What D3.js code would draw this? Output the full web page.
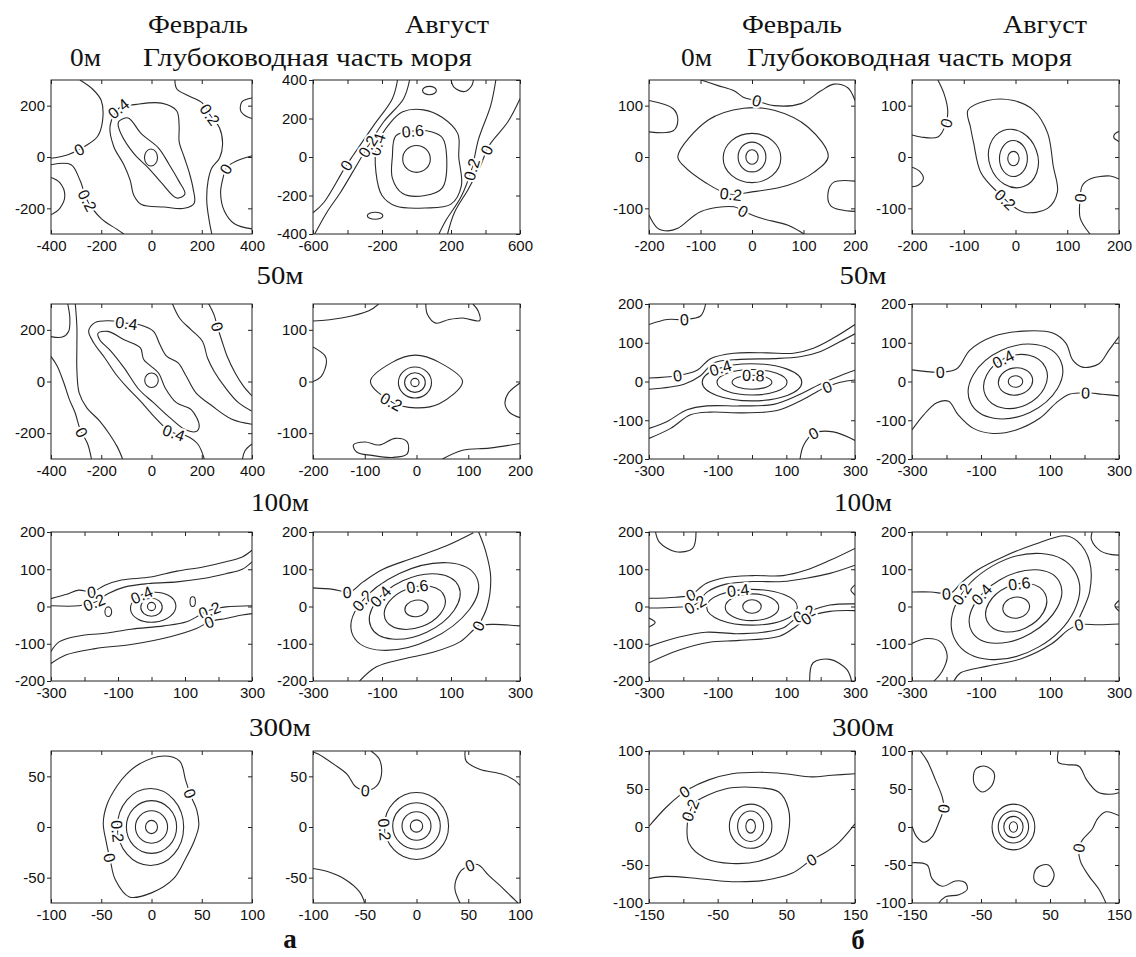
<!DOCTYPE html>
<html>
<head>
<meta charset="utf-8">
<script src="https://cdn.jsdelivr.net/npm/d3@7"></script>
<style>
  body { margin: 0; background: #fff; }
  svg { display: block; }
  .tick text { font-family: "Liberation Sans", Arial, sans-serif; font-size: 15px; fill: #111; }
  .tick line { stroke: #222; }
  .ttl { font-family: "Liberation Serif", "Times New Roman", serif; fill: #111; }
  .cl { fill: none; stroke: #2a2a2a; stroke-width: 1.1; }
  .lab { font-family: "Liberation Sans", Arial, sans-serif; font-size: 16px; fill: #111; }
</style>
</head>
<body>
<svg id="fig" width="1136" height="957"></svg>
<script>
// ---- text of the figure ----
const months = ["Февраль", "Август"];
const depths = ["0м", "50м", "100м", "300м"];
const groups = ["а", "б"];
const subtitle = "Глубоководная часть моря";

// ---- axes: rows = depth, columns = а-Feb, а-Aug, б-Feb, б-Aug ----
const xExtent = [[400, 600, 200, 200], [400, 200, 300, 300], [300, 300, 300, 300], [100, 100, 150, 150]];
const yExtent = [[300, 400, 150, 150], [300, 150, 200, 200], [200, 200, 200, 200], [75, 75, 100, 100]];
const xTickStep = [[200, 200, 100, 100], [200, 100, 100, 100], [100, 100, 100, 100], [50, 50, 50, 50]];
const xTickLabels = [
  [[-400, -200, 0, 200, 400], [-600, -200, 200, 600], [-200, -100, 0, 100, 200], [-200, -100, 0, 100, 200]],
  [[-400, -200, 0, 200, 400], [-200, -100, 0, 100, 200], [-300, -100, 100, 300], [-300, -100, 100, 300]],
  [[-300, -100, 100, 300], [-300, -100, 100, 300], [-300, -100, 100, 300], [-300, -100, 100, 300]],
  [[-100, -50, 0, 50, 100], [-100, -50, 0, 50, 100], [-150, -50, 50, 150], [-150, -50, 50, 150]]
];
const yTickLabels = [
  [[-200, 0, 200], [-400, -200, 0, 200, 400], [-100, 0, 100], [-100, 0, 100]],
  [[-200, 0, 200], [-100, 0, 100], [-200, -100, 0, 100, 200], [-200, -100, 0, 100, 200]],
  [[-200, -100, 0, 100, 200], [-200, -100, 0, 100, 200], [-200, -100, 0, 100, 200], [-200, -100, 0, 100, 200]],
  [[-50, 0, 50], [-50, 0, 50], [-100, -50, 0, 50, 100], [-100, -50, 0, 50, 100]]
];

// ---- isolines: [level, closed, points(x, y)] ----
// rings: [level, cx, cy, rx, ry, tilt]; labels: [text, x, y]
const a0FebLines = [
  [0.6, 1, [[-129,140],[-93,152],[-40,90],[28,35],[69,-27],[109,-94],[133,-144],[101,-160],[40,-101],[-12,-43],[-69,12],[-121,90],[-133,129]]],
  [0.4, 1, [[-130,190],[-60,205],[40,210],[100,180],[110,120],[110,60],[130,0],[150,-60],[165,-120],[170,-180],[130,-200],[50,-195],[-40,-185],[-70,-150],[-85,-90],[-110,-30],[-150,40],[-165,120]]],
  [0, 0, [[-285,300],[-235,265],[-200,220],[-195,140],[-215,80],[-260,45],[-330,10],[-400,-5]]],
  [0.2, 0, [[-400,-30],[-320,-30],[-285,-90],[-255,-170],[-200,-240],[-140,-280],[-110,-300]]],
  [0, 0, [[-400,-80],[-365,-100],[-345,-150],[-365,-200],[-400,-225]]],
  [0.2, 0, [[93,300],[101,265],[149,238],[202,211],[230,168],[271,113],[283,51],[271,-4],[240,-43],[225,-94],[220,-172],[230,-250],[240,-300]]],
  [0, 0, [[400,5],[340,-15],[300,-40],[285,-80],[275,-140],[290,-210],[330,-260],[400,-280]]],
  [0, 0, [[400,230],[360,215],[355,180],[375,160],[400,150]]]
];
const a0FebRings = [[0.8, -2, -2, 26, 33, 0]];
const a0FebLabels = [["0.4",-130,190],["0.2",235,165],["0",-290,28],["0.2",-255,-170],["0",295,-45]];

const a0AugLines = [
  [0.6, 1, [[-140,0],[-120,110],[-20,135],[90,130],[150,100],[175,0],[150,-160],[50,-200],[-80,-190],[-140,-110]]],
  [0.4, 1, [[-230,60],[-150,180],[-80,235],[40,245],[150,205],[240,120],[245,0],[260,-150],[200,-245],[50,-265],[-120,-255],[-200,-200],[-235,-80]]],
  [0.2, 0, [[-40,400],[-75,303],[-190,183],[-280,58],[-360,-63],[-440,-183],[-520,-288],[-590,-400]]],
  [0, 0, [[-110,400],[-140,303],[-250,162],[-370,5],[-420,-63],[-536,-235],[-600,-290]]],
  [0.2, 0, [[460,400],[430,267],[360,94],[320,-63],[260,-204],[170,-330],[130,-400]]],
  [0, 0, [[600,303],[530,183],[420,58],[370,-47],[300,-167],[220,-288],[180,-400]]],
  [0, 0, [[200,400],[220,360],[280,340],[320,370],[330,400]]]
];
const a0AugRings = [[0.8, 0, -10, 80, 70, 0], [0, 75, 345, 40, 22, 0], [0, -240, -305, 45, 18, 0]];
const a0AugLabels = [["0.6",-20,135],["0.4",-215,60],["0.2",-285,55],["0",-400,-50],["0.2",320,-63],["0",400,40]];

const b0FebLines = [
  [0.2, 1, [[-144,1],[-85,72],[-16,95],[43,91],[109,58],[148,1],[120,-30],[70,-55],[0,-68],[-45,-72],[-90,-50],[-132,-18]]],
  [0, 0, [[-99,150],[-66,139],[-35,129],[-16,116],[8,110],[43,100],[95,104],[134,129],[159,142],[186,135],[200,110]]],
  [0, 0, [[-200,110],[-153,94],[-144,72],[-153,51],[-200,49]]],
  [0, 0, [[-200,-113],[-183,-139],[-163,-144],[-144,-139],[-99,-106],[-35,-97],[-16,-106],[17,-119],[70,-133],[101,-150]]],
  [0, 0, [[200,-47],[159,-49],[148,-68],[153,-95],[200,-106]]]
];
const b0FebRings = [[0.8, 0, 0, 12, 14, 0], [0.6, 0, 0, 27, 29, 0], [0.4, 0, -2, 56, 48, 0]];
const b0FebLabels = [["0",8,110],["0.2",-40,-70],["0",-16,-103]];

const b0AugLines = [
  [0.2, 1, [[-92,91],[-54,110],[-4,110],[35,91],[62,47],[73,-18],[81,-68],[62,-100],[15,-107],[-35,-68],[-67,-30],[-81,28],[-87,58]]],
  [0, 0, [[-150,150],[-138,123],[-131,91],[-134,66],[-150,39],[-183,39],[-200,43]]],
  [0, 0, [[-200,-20],[-185,-28],[-178,-42],[-188,-55],[-200,-58]]],
  [0, 0, [[144,-150],[125,-119],[125,-81],[129,-56],[144,-43],[183,-37],[200,-43]]],
  [0, 0, [[200,50],[192,45],[190,38],[200,30]]]
];
const b0AugRings = [[0.8, -4, -3, 11, 14, 0], [0.6, -4, -3, 27, 35, 0], [0.4, -4, -3, 47, 58, -20]];
const b0AugLabels = [["0",-134,66],["0.2",-25,-90],["0",125,-81]];

const a50FebLines = [
  [0.6, 1, [[-213,187],[-174,194],[-109,162],[-44,130],[-31,85],[28,33],[54,-24],[99,-82],[158,-109],[190,-172],[177,-194],[132,-185],[73,-140],[8,-82],[-50,-31],[-109,53],[-161,117],[-206,162]]],
  [0.4, 0, [[210,-300],[184,-242],[138,-210],[86,-198],[54,-178],[8,-133],[-44,-76],[-96,-24],[-141,27],[-185,90],[-230,150],[-250,195],[-225,228],[-170,235],[-102,226],[-44,219],[8,194],[34,142],[60,98],[106,72],[138,21],[177,-44],[242,-95],[320,-146],[405,-166]]],
  [0.2, 0, [[-304,309],[-297,213],[-297,136],[-297,46],[-288,-44],[-258,-101],[-206,-153],[-167,-204],[-135,-255],[-115,-300]]],
  [0, 0, [[-401,98],[-375,59],[-349,-5],[-327,-69],[-304,-121],[-284,-185],[-254,-242],[-239,-300]]],
  [0, 0, [[-401,174],[-355,172],[-330,194],[-325,245],[-335,309]]],
  [0.2, 0, [[80,309],[112,245],[158,200],[203,155],[223,91],[249,40],[294,-24],[346,-82],[398,-114]]],
  [0, 0, [[223,309],[249,258],[262,213],[281,155],[301,98],[333,33],[366,-18],[400,-56]]],
  [0, 0, [[400,-242],[372,-268],[362,-300]]]
];
const a50FebRings = [[0.8, 0, 5, 27, 28, 0]];
const a50FebLabels = [["0.4",-102,226],["0",262,213],["0",-277,-198],["0.4",86,-198]];

const a50AugLines = [
  [0.2, 1, [[-89,0],[-47,37],[-2,51],[44,37],[89,0],[44,-43],[-2,-51],[-47,-40]]],
  [0, 0, [[-200,117],[-145,123],[-92,137],[-73,150]]],
  [0, 0, [[18,150],[21,130],[37,113],[63,120],[89,123],[122,118],[119,137],[109,150]]],
  [0, 0, [[-200,67],[-177,50],[-174,37],[-184,10],[-200,0]]],
  [0, 0, [[200,-3],[177,-23],[171,-43],[180,-60],[200,-70]]],
  [0, 1, [[-122,-123],[-99,-117],[-73,-123],[-41,-110],[-18,-117],[-18,-140],[-47,-147],[-86,-143],[-115,-137]]],
  [0, 0, [[50,-150],[89,-133],[141,-129],[200,-120]]]
];
const a50AugRings = [[0.8, -3, -2, 8, 8, 0], [0.6, -3, -2, 20, 19, 0], [0.4, -3, -2, 32, 30, 0]];
const a50AugLabels = [["0.2",-50,-42]];

const b50FebLines = [
  [0, 0, [[-300,9],[-218,15],[-160,29],[-121,59],[-53,73],[44,74],[121,73],[179,86],[237,112],[300,147]]],
  [0.2, 0, [[-300,-20],[-198,-7],[-150,15],[-111,48],[-34,57],[63,59],[140,64],[198,77],[257,103],[300,123]]],
  [0.2, 0, [[-300,-121],[-247,-103],[-189,-73],[-131,-63],[-34,-63],[63,-59],[140,-33],[198,-7],[257,15],[300,29]]],
  [0, 0, [[-300,-147],[-237,-121],[-179,-86],[-121,-79],[-24,-81],[73,-75],[150,-46],[203,-20],[257,-2],[300,4]]],
  [0, 0, [[-300,147],[-247,160],[-199,160],[-150,169],[-135,200]]],
  [0, 0, [[300,-152],[237,-130],[179,-134],[150,-165],[140,-200]]]
];
const b50FebRings = [[0.8, 0, -2, 58, 18, 0], [0.6, 0, -2, 102, 33, 0], [0.4, 0, -2, 145, 48, 0]];
const b50FebLabels = [["0",-199,160],["0",-218,15],["0.4",-90,30],["0.8",5,14],["0",218,-11],["0",179,-134]];

const b50AugLines = [
  [0, 0, [[-300,30],[-218,24],[-170,33],[-132,81],[-65,116],[22,130],[108,125],[146,99],[166,55],[194,37],[242,46],[271,81],[300,116]]],
  [0, 0, [[-300,-125],[-266,-86],[-228,-55],[-194,-51],[-166,-86],[-122,-121],[-65,-134],[2,-125],[70,-95],[118,-55],[156,-33],[204,-29],[252,-33],[300,-37]]]
];
const b50AugRings = [[0.8, 0, 0, 21, 15, 0], [0.6, 0, 0, 50, 35, -10], [0.4, 0, 0, 96, 66, -25], [0.2, 0, 0, 144, 88, -25]];
const b50AugLabels = [["0",-218,24],["0.4",-31,46],["0",204,-29]];

const a100FebLines = [
  [0, 0, [[-300,21],[-256,32],[-217,44],[-178,39],[-139,57],[-90,71],[-2,79],[76,95],[154,106],[222,120],[271,133],[300,151]]],
  [0.2, 0, [[-300,2],[-217,2],[-168,12],[-129,35],[-81,52],[-2,62],[76,66],[154,75],[222,88],[271,100],[300,120]]],
  [0.2, 0, [[-300,-121],[-276,-95],[-217,-79],[-139,-72],[-61,-61],[37,-52],[105,-41],[144,-23],[173,-10],[222,-1],[300,2]]],
  [0, 0, [[-300,-153],[-256,-130],[-168,-113],[-61,-102],[56,-81],[134,-59],[173,-41],[222,-32],[271,-23],[300,-19]]]
];
const a100FebRings = [[0.8, 0, 0, 12, 11, 0], [0.6, 0, -2, 32, 24, 0], [0.4, 5, -2, 68, 40, -5], [0.2, -129, -14, 10, 13, 0], [0.2, 123, 13, 8, 13, 0]];
const a100FebLabels = [["0",-178,39],["0.2",-168,8],["0.4",-30,28],["0.2",173,-10],["0",173,-41]];

const a100AugLines = [
  [0, 0, [[-300,50],[-242,46],[-194,39],[-155,66],[-97,100],[-10,130],[87,163],[165,198]]],
  [0, 0, [[179,-52],[205,0],[215,80],[200,150],[180,200]]],
  [0, 0, [[-165,-200],[-116,-162],[-39,-141],[48,-123],[126,-95],[165,-63],[179,-52],[223,-48],[300,-52]]]
];
const a100AugRings = [[0.8, 0, -5, 34, 22, -10], [0.6, -5, -3, 92, 54, -20], [0.4, -5, 0, 140, 76, -25], [0.2, -5, 0, 198, 98, -25]];
const a100AugLabels = [["0",-200,39],["0.2",-169,26],["0.4",-100,26],["0.6",5,45],["0",179,-52]];

const b100FebLines = [
  [0, 0, [[-300,22],[-222,25],[-178,31],[-134,62],[-76,78],[2,83],[90,83],[158,98],[227,124],[300,156]]],
  [0.2, 0, [[-300,-4],[-222,-2],[-168,4],[-129,40],[-76,60],[2,67],[90,67],[158,76],[227,89],[300,111]]],
  [0.2, 0, [[-300,-107],[-212,-82],[-134,-69],[-46,-73],[32,-69],[90,-58],[129,-31],[168,-13],[227,4],[300,7]]],
  [0, 0, [[-300,-151],[-212,-117],[-124,-96],[-37,-91],[80,-80],[129,-53],[168,-27],[227,-13],[300,-11]]],
  [0, 0, [[-281,200],[-270,173],[-222,147],[-173,156],[-163,200]]],
  [0, 0, [[168,-200],[178,-151],[227,-142],[276,-169],[290,-200]]],
  [0, 0, [[-300,-31],[-282,-43],[-300,-55]]],
  [0, 0, [[300,58],[288,44],[300,31]]]
];
const b100FebRings = [[0.8, 0, 0, 27, 18, 0], [0.6, 0, -2, 78, 36, 0], [0.4, 0, -2, 132, 48, 0]];
const b100FebLabels = [["0",-180,31],["0.2",-165,2],["0.4",-40,42],["0.2",150,-20],["0",160,-38]];

const b100AugLines = [
  [0, 0, [[-300,39],[-246,39],[-188,36],[-159,62],[-110,98],[-32,135],[56,167],[144,190],[180,175],[215,120],[215,40],[190,-20],[175,-49]]],
  [0, 0, [[-179,-201],[-159,-178],[-81,-160],[17,-140],[105,-100],[154,-62],[183,-49],[242,-49],[300,-47]]],
  [0, 0, [[-300,-99],[-256,-86],[-217,-95],[-198,-132],[-212,-173],[-237,-201]]],
  [0, 0, [[222,200],[220,180],[245,150],[275,140],[300,138]]],
  [0, 0, [[300,16],[288,2],[300,-12]]]
];
const b100AugRings = [[0.8, 2, -3, 39, 28, -10], [0.6, 2, -3, 93, 60, -25], [0.4, 0, 0, 146, 83, -30], [0.2, 0, 0, 200, 125, -30]];
const b100AugLabels = [["0",-200,39],["0.2",-150,30],["0.4",-95,28],["0.6",12,45],["0",183,-49]];

const a300FebLines = [
  [0, 1, [[-12.5,62],[12.5,70],[28,65],[34,46],[39,31],[45,17],[47,1],[42,-15],[34,-31],[22,-51],[0,-65],[-22,-69],[-36,-52],[-41,-33],[-45,-15],[-48,4],[-44,23],[-34,41],[-25,52]]]
];
const a300FebRings = [[0.8, 0, 0, 6, 6.5, 0], [0.6, 0, 0, 16, 16, 0], [0.4, 0, 0, 25, 26, 0], [0.2, -1, 0, 33, 38, 0]];
const a300FebLabels = [["0",37.5,33],["0",-41,-31],["0.2",-33,-4]];

const a300AugLines = [
  [0, 0, [[-44,75],[-36,67],[-34,51],[-39,40],[-48,36],[-59,40],[-67,52],[-80,62],[-95,72],[-100,74]]],
  [0, 0, [[47,75],[48,65],[61,57],[83,52],[95,46],[100,41]]],
  [0, 0, [[-100,-41],[-86,-44],[-70,-51],[-55,-64],[-50,-75]]],
  [0, 0, [[42,-75],[37,-60],[41,-46],[47,-40],[59,-37],[70,-48],[83,-60],[95,-72],[98,-75]]]
];
const a300AugRings = [[0.8, 0, 1, 6, 6, 0], [0.6, 0, 1, 14, 14, 0], [0.4, 0, 1, 23, 23, 0], [0.2, 0, 1, 31, 33, 0]];
const a300AugLabels = [["0",-50,36],["0.2",-33,-2],["0",52,-38]];

const b300FebLines = [
  [0.2, 1, [[-82,33],[-39,50],[5,52],[39,46],[53,24],[53,-8],[44,-30],[10,-45],[-29,-48],[-68,-41],[-92,-21],[-94,6],[-89,24]]],
  [0, 0, [[-150,1],[-126,25],[-105,42],[-92,50],[-63,62],[-29,70],[10,72],[48,70],[87,66],[116,68],[150,70]]],
  [0, 0, [[150,4],[126,-21],[106,-34],[87,-43],[58,-61],[19,-70],[-29,-72],[-77,-68],[-126,-65],[-150,-68]]]
];
const b300FebRings = [[0.8, -2, 1, 7, 9, 0], [0.6, -2, 1, 19, 20, 0], [0.4, -2, 1, 31, 29, 0]];
const b300FebLabels = [["0",-97,46],["0.2",-80,18],["0",87,-43]];

const b300AugLines = [
  [0, 0, [[-138,100],[-128,87],[-116,62],[-106,39],[-104,25],[-111,6],[-121,-13],[-133,-20],[-143,-13],[-150,1]]],
  [0, 1, [[-58,76],[-44,80],[-31,71],[-34,55],[-48,46],[-60,57]]],
  [0, 0, [[62,100],[62,85],[75,82],[92,80],[103,62],[119,46],[136,43],[150,45]]],
  [0, 0, [[150,15],[131,20],[119,11],[111,-3],[97,-17],[92,-27],[94,-45],[106,-64],[121,-82],[131,-100]]],
  [0, 1, [[34,-52],[48,-50],[56,-64],[46,-78],[29,-73],[27,-61]]],
  [0, 0, [[-150,-47],[-128,-50],[-121,-68],[-106,-78],[-87,-71],[-73,-73],[-70,-82],[-82,-89],[-102,-92],[-111,-100]]]
];
const b300AugRings = [[0.8, -3, 0, 6, 7, 0], [0.6, -3, 0, 14, 14, 0], [0.4, -3, 0, 22, 21, 0], [0.2, -3, 0, 31, 30, 0]];
const b300AugLabels = [["0",-104,25],["0",92,-27]];

// panel table, row = depth, column = а-Feb, а-Aug, б-Feb, б-Aug
const panelData = [
  [[a0FebLines, a0FebRings, a0FebLabels], [a0AugLines, a0AugRings, a0AugLabels], [b0FebLines, b0FebRings, b0FebLabels], [b0AugLines, b0AugRings, b0AugLabels]],
  [[a50FebLines, a50FebRings, a50FebLabels], [a50AugLines, a50AugRings, a50AugLabels], [b50FebLines, b50FebRings, b50FebLabels], [b50AugLines, b50AugRings, b50AugLabels]],
  [[a100FebLines, a100FebRings, a100FebLabels], [a100AugLines, a100AugRings, a100AugLabels], [b100FebLines, b100FebRings, b100FebLabels], [b100AugLines, b100AugRings, b100AugLabels]],
  [[a300FebLines, a300FebRings, a300FebLabels], [a300AugLines, a300AugRings, a300AugLabels], [b300FebLines, b300FebRings, b300FebLabels], [b300AugLines, b300AugRings, b300AugLabels]]
];

// ---- layout ----
const colX = [[51, 252], [313, 520], [649, 855], [912, 1119]];
const rowY = [[80, 234], [304, 459], [532, 681], [751, 903]];

const svg = d3.select("#fig");

// titles
const monthX = [[148, 405], [742, 1003]];
const monthW = [100, 84];
groups.forEach((g, gi) => {
  months.forEach((m, mi) => {
    svg.append("text").attr("class", "ttl")
      .attr("x", monthX[gi][mi]).attr("y", 33)
      .attr("font-size", 25)
      .attr("textLength", monthW[mi]).attr("lengthAdjust", "spacingAndGlyphs")
      .text(m);
  });
});
[[70, 143], [681, 747]].forEach(([x0, x1], gi) => {
  svg.append("text").attr("class", "ttl").attr("x", x0).attr("y", 66).attr("font-size", 25)
    .attr("textLength", 31).attr("lengthAdjust", "spacingAndGlyphs").text(depths[0]);
  svg.append("text").attr("class", "ttl").attr("x", x1).attr("y", 66).attr("font-size", 25)
    .attr("textLength", gi ? 325 : 329).attr("lengthAdjust", "spacingAndGlyphs").text(subtitle);
});
const depthY = [null, 284, 511, 736];
const depthW = [null, 47, 58, 62];
[280, 863].forEach(cx => {
  for (let r = 1; r < 4; r++) {
    svg.append("text").attr("class", "ttl")
      .attr("x", cx - depthW[r] / 2).attr("y", depthY[r]).attr("font-size", 25)
      .attr("textLength", depthW[r]).attr("lengthAdjust", "spacingAndGlyphs")
      .text(depths[r]);
  }
});
[[290, 948], [858, 949]].forEach(([cx, by], gi) => {
  svg.append("text").attr("class", "ttl")
    .attr("x", cx).attr("y", by).attr("text-anchor", "middle")
    .attr("font-size", 27).attr("font-weight", "bold")
    .text(groups[gi]);
});

// ---- panels ----
let clipN = 0;
panelData.forEach((row, r) => {
  row.forEach(([lines, rings, labels], c) => {
    const [x0, x1] = colX[c], [y0, y1] = rowY[r];
    const xe = xExtent[r][c], ye = yExtent[r][c];
    const x = d3.scaleLinear().domain([-xe, xe]).range([x0, x1]);
    const y = d3.scaleLinear().domain([-ye, ye]).range([y1, y0]);
    const g = svg.append("g");

    const id = "clip" + (clipN++);
    g.append("clipPath").attr("id", id)
      .append("rect").attr("x", x0).attr("y", y0).attr("width", x1 - x0).attr("height", y1 - y0);
    const cg = g.append("g").attr("clip-path", `url(#${id})`);

    const open = d3.line().x(d => x(d[0])).y(d => y(d[1])).curve(d3.curveCatmullRom.alpha(0.5));
    const shut = d3.line().x(d => x(d[0])).y(d => y(d[1])).curve(d3.curveCatmullRomClosed.alpha(0.5));

    cg.selectAll("path.ln").data(lines).join("path")
      .attr("class", "cl ln")
      .attr("d", d => (d[1] ? shut : open)(d[2]));

    cg.selectAll("path.rg").data(rings).join("path")
      .attr("class", "cl rg")
      .attr("d", ([lv, cx, cy, rx, ry, tilt]) => {
        const px = x(cx), py = y(cy);
        const prx = Math.abs(x(cx + rx) - px), pry = Math.abs(y(cy + ry) - py);
        const t = tilt * Math.PI / 180;
        const sx = px + prx * Math.cos(t), sy = py + prx * Math.sin(t);
        const ex = px - prx * Math.cos(t), ey = py - prx * Math.sin(t);
        return `M${sx},${sy}A${prx},${pry} ${tilt} 1 0 ${ex},${ey}A${prx},${pry} ${tilt} 1 0 ${sx},${sy}Z`;
      });

    // isoline labels: sit on the nearest line, turned along it
    const paths = cg.selectAll("path.cl").nodes();
    labels.forEach(([txt, lx, ly]) => {
      const tx = x(lx), ty = y(ly);
      let best = null;
      paths.forEach(p => {
        const L = p.getTotalLength();
        for (let s = 0; s <= L; s += 1.5) {
          const pt = p.getPointAtLength(s);
          const dd = (pt.x - tx) ** 2 + (pt.y - ty) ** 2;
          if (!best || dd < best.dd) best = { dd, p, s, L, pt };
        }
      });
      let px = tx, py = ty, ang = 0;
      if (best && best.dd < 900) {
        const a = best.p.getPointAtLength(Math.max(0, best.s - 5));
        const b = best.p.getPointAtLength(Math.min(best.L, best.s + 5));
        ang = Math.atan2(b.y - a.y, b.x - a.x) * 180 / Math.PI;
        if (ang > 90) ang -= 180;
        if (ang < -90) ang += 180;
        px = best.pt.x; py = best.pt.y;
      }
      cg.append("text").attr("class", "lab")
        .attr("transform", `translate(${px},${py}) rotate(${ang})`)
        .attr("text-anchor", "middle").attr("dy", "0.36em")
        .attr("stroke", "#fff").attr("stroke-width", 4).attr("paint-order", "stroke")
        .text(txt);
    });

    g.append("rect").attr("x", x0).attr("y", y0).attr("width", x1 - x0).attr("height", y1 - y0)
      .attr("fill", "none").attr("stroke", "#222").attr("stroke-width", 1);

    const step = xTickStep[r][c];
    const xt = d3.range(-xe, xe + step / 2, step);
    const xl = xTickLabels[r][c], yl = yTickLabels[r][c];
    const noDomain = s => s.select(".domain").remove();

    g.append("g").attr("transform", `translate(0,${y1})`)
      .call(d3.axisBottom(x).tickValues(xt).tickSize(-4).tickPadding(6)
        .tickFormat(v => xl.includes(v) ? String(v) : ""))
      .call(noDomain);
    g.append("g").attr("transform", `translate(0,${y0})`)
      .call(d3.axisTop(x).tickValues(xt).tickSize(-4).tickFormat(""))
      .call(noDomain);
    g.append("g").attr("transform", `translate(${x0},0)`)
      .call(d3.axisLeft(y).tickValues(yl).tickSize(4).tickPadding(2).tickFormat(v => String(v)))
      .call(noDomain);
    g.append("g").attr("transform", `translate(${x1},0)`)
      .call(d3.axisRight(y).tickValues(yl).tickSize(-4).tickFormat(""))
      .call(noDomain);
  });
});
</script>
</body>
</html>
